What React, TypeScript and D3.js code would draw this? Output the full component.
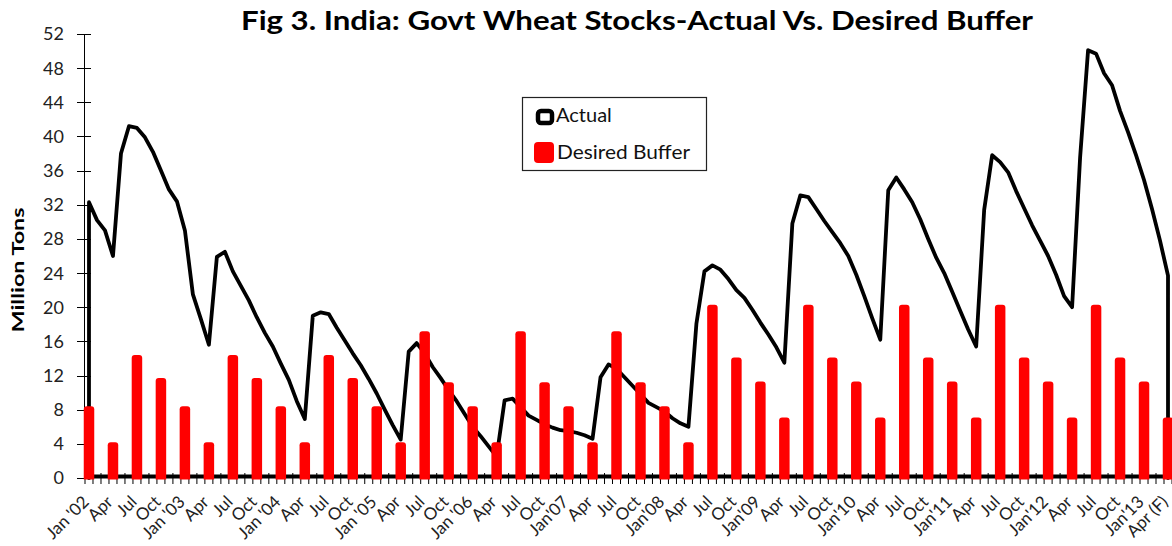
import React from "react";
import * as d3 from "d3";

// ---- DATA ----
const actual: number[] = [
  // 2002
  32.3, 30.2, 29.0, 26.0, 38.0, 41.2, 41.0, 39.9, 38.2, 36.0, 33.8, 32.4,
  // 2003
  29.0, 21.5, 18.6, 15.6, 25.9, 26.5, 24.2, 22.5, 20.8, 18.8, 17.0, 15.4,
  // 2004
  13.4, 11.5, 9.0, 6.9, 19.0, 19.4, 19.2, 17.6, 16.1, 14.6, 13.2, 11.6,
  // 2005
  9.9, 8.0, 6.2, 4.5, 14.8, 15.8, 14.6, 13.0, 11.7, 10.3, 9.0, 7.5,
  // 2006
  6.0, 4.9, 3.7, 2.5, 9.1, 9.3, 8.3, 7.3, 6.8, 6.3, 5.9, 5.6,
  // 2007
  5.5, 5.3, 5.0, 4.6, 11.8, 13.3, 12.8, 11.8, 10.8, 9.8, 8.8, 8.3,
  // 2008
  7.8, 7.0, 6.4, 6.0, 18.1, 24.2, 24.9, 24.4, 23.3, 22.0, 21.1, 19.7,
  // 2009
  18.2, 16.8, 15.3, 13.5, 29.8, 33.1, 32.9, 31.5, 30.1, 28.8, 27.5, 26.0,
  // 2010
  23.8, 21.3, 18.7, 16.2, 33.7, 35.2, 33.8, 32.3, 30.3, 28.0, 25.8, 24.0,
  // 2011
  21.8, 19.6, 17.4, 15.4, 31.4, 37.8, 37.0, 35.8, 33.6, 31.6, 29.6, 27.8,
  // 2012
  26.0, 23.8, 21.3, 20.0, 37.5, 50.1, 49.7, 47.4, 46.0, 43.0, 40.5, 37.8,
  // 2013
  34.9, 31.5, 27.8, 23.7,
];

// quarterly desired buffer (Jan, Apr, Jul, Oct)
const buffer: number[] = [
  8.4, 4.2, 14.4, 11.7,
  8.4, 4.2, 14.4, 11.7,
  8.4, 4.2, 14.4, 11.7,
  8.4, 4.2, 17.2, 11.2,
  8.4, 4.2, 17.2, 11.2,
  8.4, 4.2, 17.2, 11.2,
  8.4, 4.2, 20.3, 14.1,
  11.3, 7.1, 20.3, 14.1,
  11.3, 7.1, 20.3, 14.1,
  11.3, 7.1, 20.3, 14.1,
  11.3, 7.1, 20.3, 14.1,
  11.3, 7.1,
];

const tickLabels: string[] = [
  "Jan '02", "Apr", "Jul", "Oct",
  "Jan '03", "Apr", "Jul", "Oct",
  "Jan '04", "Apr", "Jul", "Oct",
  "Jan '05", "Apr", "Jul", "Oct",
  "Jan '06", "Apr", "Jul", "Oct",
  "Jan'07", "Apr", "Jul", "Oct",
  "Jan'08", "Apr", "Jul", "Oct",
  "Jan'09", "Apr", "Jul", "Oct",
  "Jan'10", "Apr", "Jul", "Oct",
  "Jan'11", "Apr", "Jul", "Oct",
  "Jan'12", "Apr", "Jul", "Oct",
  "Jan'13", "Apr (F)",
];

const yTicks: number[] = [0, 4, 8, 12, 16, 20, 24, 28, 32, 36, 40, 44, 48, 52];

const TITLE = "Fig 3. India: Govt Wheat Stocks-Actual Vs. Desired Buffer";
const FONT = "Lato, 'Open Sans', sans-serif";

export default function App() {
  const W = 1172, H = 546;
  const left = 85, right = 1172, top = 34, bottom = 478;
  const months = d3.range(actual.length);
  const x = d3.scaleBand<number>().domain(months).range([left, right]).padding(0);
  const cx = (i: number) => (x(i) as number) + x.bandwidth() / 2;
  const y = d3.scaleLinear().domain([0, 52]).range([bottom, top]);

  const linePts: [number, number][] = [
    [0, 0],
    ...actual.map((v, i) => [i, v] as [number, number]),
    [actual.length - 1, 0],
  ];
  const line = d3
    .line<[number, number]>()
    .x((d) => cx(d[0]))
    .y((d) => y(d[1]));

  const barW = 10.5;
  const r = 3;
  const barPath = (i: number, v: number) => {
    const c = cx(i);
    const x0 = c - barW / 2, x1 = c + barW / 2;
    const yt = y(v), yb = y(0) + 1.5;
    return `M${x0},${yb}L${x0},${yt + r}Q${x0},${yt} ${x0 + r},${yt}L${x1 - r},${yt}Q${x1},${yt} ${x1},${yt + r}L${x1},${yb}Z`;
  };

  const boundaries = d3.range(actual.length + 1).map((k) => left + k * x.bandwidth());

  return (
    <div style={{ position: "absolute", left: 0, top: 0 }}>
      <svg width={W} height={H} style={{ display: "block", background: "#fff" }}>
        <rect x={0} y={0} width={W} height={H} fill="#fff" />
        {/* title */}
        <text
          x={637}
          y={30}
          textAnchor="middle"
          fontFamily={FONT}
          fontWeight="bold"
          fontSize={27}
          textLength={792}
          lengthAdjust="spacingAndGlyphs"
          fill="#000"
        >
          {TITLE}
        </text>

        {/* y axis title */}
        <text
          transform={`translate(24,270) rotate(-90)`}
          textAnchor="middle"
          fontFamily={FONT}
          fontWeight="bold"
          fontSize={17}
          textLength={125}
          lengthAdjust="spacingAndGlyphs"
          fill="#000"
        >
          Million Tons
        </text>

        {/* y axis */}
        <line x1={84.5} x2={84.5} y1={y(52)} y2={y(0)} stroke="#000" strokeWidth={1} />
        {yTicks.map((t) => (
          <g key={t}>
            <line x1={77} x2={91} y1={Math.round(y(t)) + 0.5} y2={Math.round(y(t)) + 0.5} stroke="#000" strokeWidth={1} />
            <text
              x={64}
              y={y(t)}
              dy="0.36em"
              textAnchor="end"
              fontFamily={FONT}
              fontSize={18}
              fill="#222"
            >
              {t}
            </text>
          </g>
        ))}

        {/* x axis */}
        <line x1={left} x2={right} y1={476.5} y2={476.5} stroke="#000" strokeWidth={4} />
        {boundaries.map((bx, k) => (
          <line key={k} x1={bx} x2={bx} y1={473} y2={484} stroke="#000" strokeWidth={1} />
        ))}

        {/* actual line */}
        <path
          d={line(linePts) || ""}
          fill="none"
          stroke="#000"
          strokeWidth={3.8}
          strokeLinejoin="round"
          strokeLinecap="round"
        />

        {/* buffer bars */}
        {buffer.map((v, q) => (
          <path key={q} d={barPath(q * 3, v)} fill="#ff0000" />
        ))}

        {/* x tick labels */}
        {tickLabels.map((lab, q) => (
          <text
            key={q}
            transform={`translate(${cx(q * 3) + 1},${503}) rotate(-45)`}
            textAnchor="end"
            fontFamily={FONT}
            fontSize={17}
            fill="#222"
          >
            {lab}
          </text>
        ))}

        {/* legend */}
        <rect x={522.5} y={97.5} width={184} height={73} fill="#fff" stroke="#222" strokeWidth={1.2} />
        <rect x={538} y={111} width={14} height={12} rx={3} fill="#fff" stroke="#000" strokeWidth={4.5} />
        <text x={556} y={121.5} fontFamily={FONT} fontSize={20} fill="#111">
          Actual
        </text>
        <rect x={534} y={142} width={20} height={21} rx={4} fill="#ff0000" />
        <text x={557} y={158.7} fontFamily={FONT} fontSize={20} fill="#111" textLength={133} lengthAdjust="spacingAndGlyphs">
          Desired Buffer
        </text>
      </svg>
    </div>
  );
}
